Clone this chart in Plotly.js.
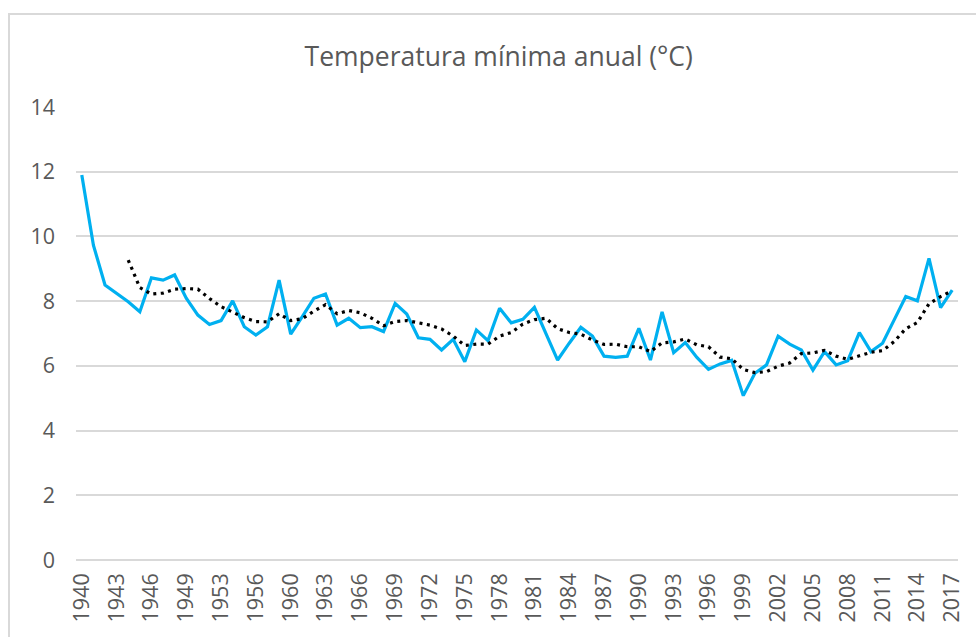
<!DOCTYPE html>
<html>
<head>
<meta charset="utf-8">
<script src="https://cdn.plot.ly/plotly-3.0.1.min.js"></script>
<style>
  html, body { margin: 0; padding: 0; background: #ffffff; overflow: hidden; }
  #frame { position: absolute; left: 8px; top: 13px; width: 990px; height: 660px; border: 2px solid #d9d9d9; box-sizing: border-box; }
  #chart { position: absolute; left: 0; top: 0; width: 976px; height: 637px; }
</style>
</head>
<body>
<div id="frame"></div>
<div id="chart"></div>
<script>
// Categories (years present in the series; some years are missing)
const years = [
  "1940","1941","1942","1943","1944","1945","1946","1947","1948","1949",
  "1950","1951","1953","1954","1955","1956","1957","1958","1960","1961",
  "1962","1963","1964","1965","1966","1967","1968","1969","1970","1971",
  "1972","1973","1974","1975","1976","1977","1978","1979","1980","1981",
  "1982","1983","1984","1985","1986","1987","1988","1989","1990","1991",
  "1992","1993","1994","1995","1996","1997","1998","1999","2000","2001",
  "2002","2003","2004","2005","2006","2007","2008","2009","2010","2011",
  "2012","2013","2014","2015","2016","2017"
];

// Annual minimum temperature (°C)
const tempMin = [
  11.90, 9.73, 8.50, 8.24, 7.98, 7.67, 8.72, 8.65, 8.81, 8.09,
  7.57, 7.28, 7.40, 8.01, 7.21, 6.95, 7.21, 8.65, 6.98, 7.52,
  8.09, 8.22, 7.26, 7.47, 7.18, 7.21, 7.06, 7.93, 7.60, 6.87,
  6.82, 6.49, 6.82, 6.13, 7.11, 6.78, 7.78, 7.33, 7.44, 7.81,
  7.00, 6.18, 6.70, 7.19, 6.92, 6.30, 6.26, 6.30, 7.16, 6.18,
  7.67, 6.41, 6.72, 6.26, 5.89, 6.06, 6.17, 5.08, 5.77, 6.03,
  6.92, 6.67, 6.49, 5.87, 6.44, 6.03, 6.16, 7.03, 6.44, 6.70,
  7.42, 8.14, 8.01, 9.32, 7.80, 8.34
];

// Dotted trend (moving average) values, first four years empty
const trend = [
  null, null, null, null, 9.27, 8.42, 8.22, 8.25, 8.37, 8.39,
  8.37, 8.08, 7.83, 7.67, 7.49, 7.37, 7.36, 7.61, 7.40, 7.46,
  7.69, 7.89, 7.61, 7.71, 7.64, 7.47, 7.24, 7.37, 7.40, 7.33,
  7.26, 7.14, 6.92, 6.63, 6.67, 6.67, 6.92, 7.03, 7.29, 7.43,
  7.47, 7.15, 7.03, 6.98, 6.80, 6.66, 6.67, 6.59, 6.59, 6.44,
  6.71, 6.74, 6.83, 6.65, 6.59, 6.27, 6.22, 5.89, 5.79, 5.82,
  5.99, 6.09, 6.38, 6.40, 6.48, 6.30, 6.20, 6.31, 6.42, 6.47,
  6.75, 7.15, 7.34, 7.92, 8.14, 8.32
];

// Tick labels shown on the x axis
const xTickLabels = [
  "1940","1943","1946","1949","1953","1956","1960","1963","1966","1969",
  "1972","1975","1978","1981","1984","1987","1990","1993","1996","1999",
  "2002","2005","2008","2011","2014","2017"
];

const yTicks = [0, 2, 4, 6, 8, 10, 12, 14];

const traces = [
  {
    x: years, y: tempMin, type: "scatter", mode: "lines",
    line: { color: "#00B0F0", width: 3.2 },
    hoverinfo: "x+y"
  },
  {
    x: years, y: trend, type: "scatter", mode: "lines",
    line: { color: "#000000", width: 3.2, dash: "3px,4.5px" },
    connectgaps: false, hoverinfo: "x+y"
  }
];

const layout = {
  width: 976, height: 637,
  paper_bgcolor: "rgba(0,0,0,0)", plot_bgcolor: "rgba(0,0,0,0)",
  showlegend: false,
  margin: { l: 75.7, r: 18, t: 107, b: 77 },
  font: { family: "Open Sans, Noto Sans, sans-serif", color: "#595959" },
  title: {
    text: "Temperatura mínima anual (°C)",
    font: { family: "Open Sans, Noto Sans, sans-serif", size: 26.5, color: "#595959" },
    xref: "container", x: 0.511, xanchor: "center",
    yref: "container", y: 1 - 57 / 637, yanchor: "middle"
  },
  xaxis: {
    type: "category",
    categoryorder: "array", categoryarray: years,
    range: [-0.5, years.length - 0.5],
    tickmode: "array", tickvals: xTickLabels, ticktext: xTickLabels,
    tickangle: -90,
    tickfont: { size: 21.5, color: "#595959" },
    showgrid: false, zeroline: false, showline: false,
    ticks: "", ticklen: 0, ticklabelstandoff: 8
  },
  yaxis: {
    range: [0, 14],
    tickmode: "array", tickvals: yTicks,
    tickfont: { size: 21.5, color: "#595959" },
    gridcolor: "#d9d9d9", gridwidth: 2,
    zeroline: true, zerolinecolor: "#d9d9d9", zerolinewidth: 2,
    showline: false, ticks: "", ticklabelstandoff: 20
  }
};

Plotly.newPlot("chart", traces, layout, { displayModeBar: false, staticPlot: true });
</script>
</body>
</html>
